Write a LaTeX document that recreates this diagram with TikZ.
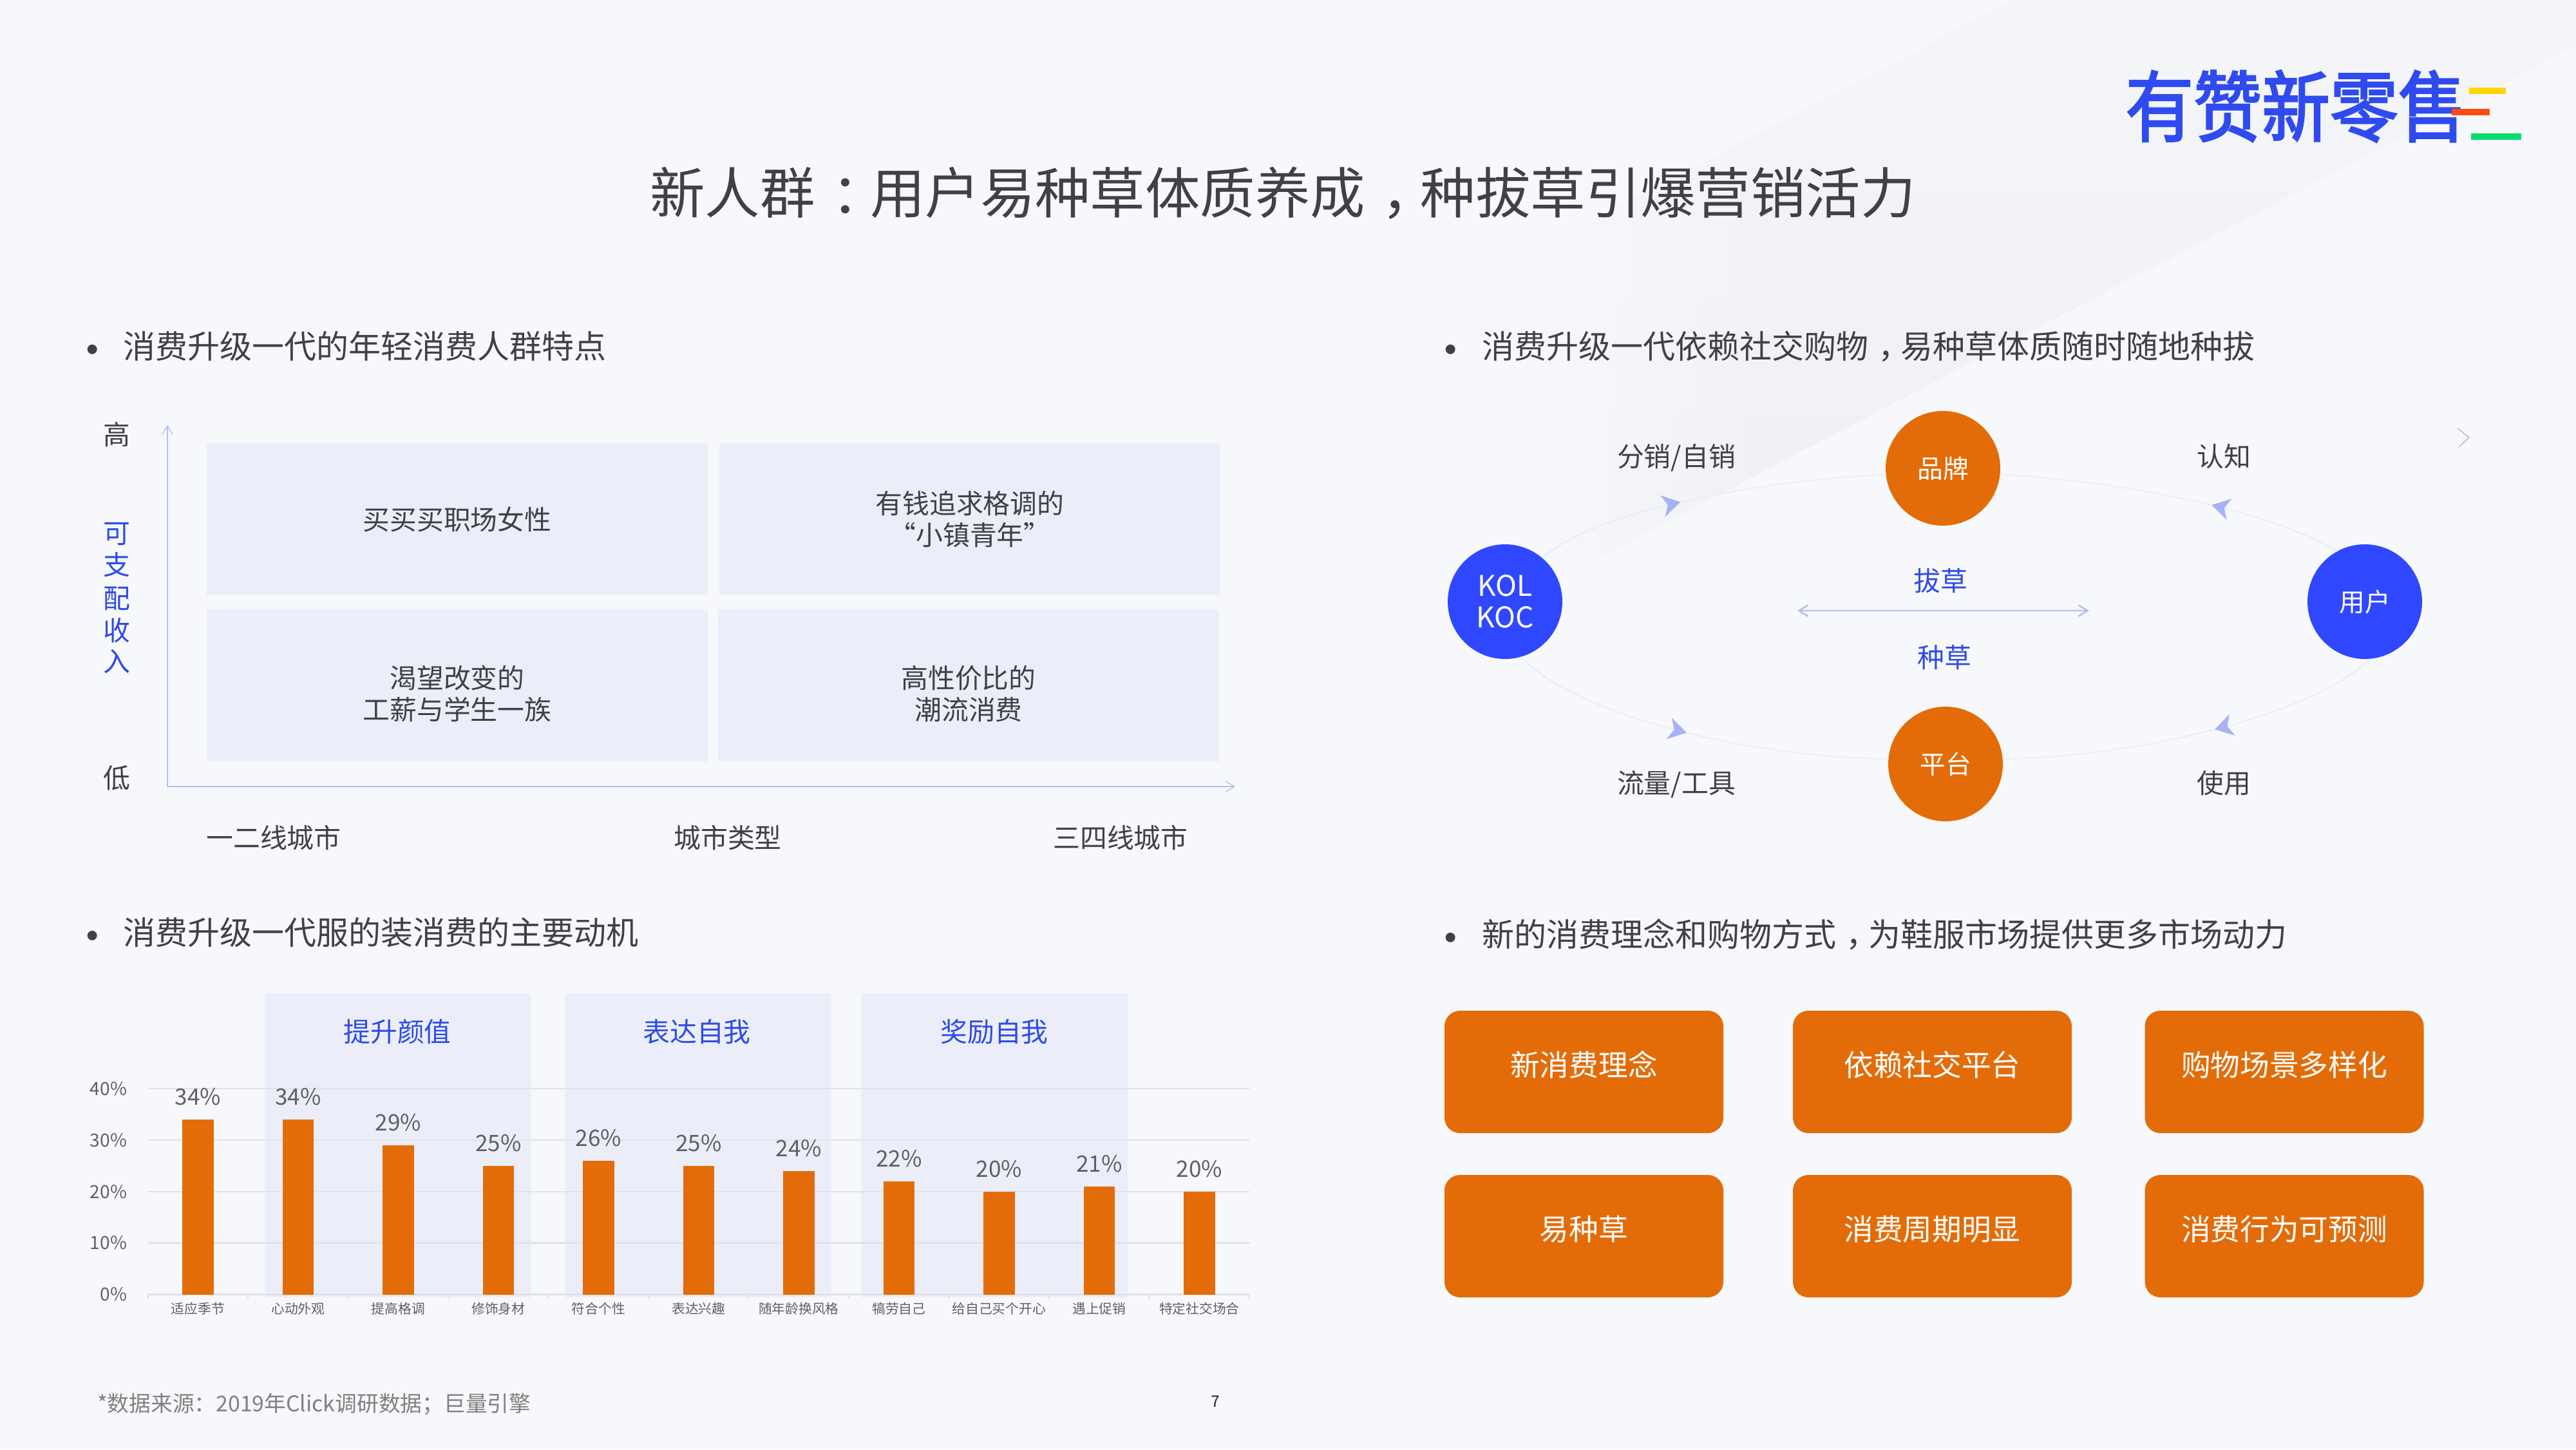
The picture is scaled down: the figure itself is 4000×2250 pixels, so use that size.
\documentclass[tikz,border=0pt]{standalone}
\usepackage{fontspec}
\setmainfont{Noto Sans CJK SC}
\newfontfamily\logofont[FakeBold=2.5]{Noto Sans CJK SC}
\usetikzlibrary{arrows.meta,decorations.markings,fadings}
\definecolor{bgcol}{HTML}{F7F8FB}
\definecolor{bandgrey}{HTML}{EFF0F3}
\definecolor{ink}{HTML}{404046}
\definecolor{softink}{HTML}{5F5F66}
\definecolor{blueink}{HTML}{2F4BE6}
\definecolor{logoblue}{HTML}{2F4BF0}
\definecolor{bluefill}{HTML}{2F48FF}
\definecolor{orangefill}{HTML}{E36C09}
\definecolor{palefill}{HTML}{EBEEF9}
\definecolor{gridcol}{HTML}{E1E2E9}
\definecolor{arccol}{HTML}{E8EBF8}
\definecolor{arrowcol}{HTML}{A6B2F4}
\definecolor{axiscol}{HTML}{B4BFF0}
\definecolor{centercol}{HTML}{B3BCEA}
\definecolor{logoyellow}{HTML}{FFD500}
\definecolor{logored}{HTML}{FF4A10}
\definecolor{logogreen}{HTML}{00DF70}
\newcommand{\fs}[1]{\fontsize{#1}{#1}\selectfont}
\newcommand{\fwcomma}{\kern.3em ^^^^ff0c\kern-.3em }
\newcommand{\fwcolon}{\kern.3em ^^^^ff1a\kern-.3em }
\def\px{0.01cm}
\tikzset{
  x=0.01cm,y=-0.01cm,
  txt/.style={inner sep=0pt,outer sep=0pt,text=ink},
  titletxt/.style={txt,font=\fs{24.3},text=ink,text height=21.3pt,text depth=2.9pt},
  headtxt/.style={txt,anchor=west,font=\fs{14.22},text height=12.5pt,text depth=1.7pt},
  bullettxt/.style={txt,font=\fs{20}},
  chartlbl/.style={txt,font=\fs{11.9},text height=10.5pt,text depth=1.4pt},
  bluelbl/.style={txt,font=\fs{11.9},text=blueink,text height=10.5pt,text depth=1.4pt},
  quad/.style={fill=palefill,inner sep=0pt,outer sep=0pt,minimum width=778*\px,minimum height=236*\px,
     font=\fontsize{11.9}{14}\selectfont,text=ink,align=center},
  quadlbl/.style={txt,font=\fontsize{11.9}{14}\selectfont,align=center},
  band/.style={fill=palefill,inner sep=0pt,minimum width=414*\px,minimum height=472*\px},
  gridline/.style={draw=gridcol,line width=.8pt},
  barbox/.style={fill=orangefill,inner sep=0pt,outer sep=0pt,minimum width=48.5*\px,anchor=south},
  vallbl/.style={txt,font=\fs{10},text=softink},
  ylbl/.style={txt,anchor=east,font=\fs{8},text=softink},
  catlbl/.style={txt,font=\fs{5.9},text=softink},
  disc/.style={circle,inner sep=0pt,outer sep=0pt,minimum size=178*\px,text=white,align=center,
     font=\fontsize{11.3}{14}\selectfont},
  bluedisc/.style={disc,fill=bluefill},
  orangedisc/.style={disc,fill=orangefill},
  arcflow/.style={draw=arccol,line width=.45pt,postaction={decorate,decoration={markings,
     mark=at position #1 with {\arrow{Stealth[length=.28cm,width=.34cm,inset=.08cm,color=arrowcol]}}}}},
  actionbox/.style={fill=orangefill,rounded corners=.24cm,inner sep=0pt,outer sep=0pt,
     minimum width=433*\px,minimum height=190*\px,text=white,font=\fs{13}},
  axisline/.style={draw=axiscol,line width=.35pt,{Straight Barb[length=.14cm,width=.17cm]}-{Straight Barb[length=.14cm,width=.17cm]}},
  centerline/.style={draw=centercol,line width=.7pt,{Straight Barb[length=.14cm,width=.17cm]}-{Straight Barb[length=.14cm,width=.17cm]}},
}
\newcommand{\boxtxt}[1]{\raisebox{-0.65mm}[0pt][0pt]{#1}}
\begin{document}
\begin{tikzpicture}
\useasboundingbox (0,0) rectangle (4000,2250);
\fill[bgcol] (0,0) rectangle (4000,2250);
% diagonal background band
\begin{scope}
  \clip (0,0) rectangle (4000,2250);
  \begin{scope}[shift={(4000,72)},rotate=27.6]
    \shade[top color=bgcol,bottom color=bandgrey] (300,0) -- (-1790,0) -- (-1790,-469) -- (300,-469) -- cycle;
  \end{scope}
  \fill[bgcol] (2000,100) rectangle (2400,1000);
  \fill[bgcol,path fading=east] (2399,100) rectangle (2760,1000);
\end{scope}

% logo
\node[txt,font=\logofont\fontsize{30.1}{30}\selectfont,text=logoblue] (logo) at (3565,165) {\scalebox{1}[1.13]{有赞新零售}};
\fill[logoyellow] (3834,136) rectangle (3891,146);
\fill[logored] (3807,169) rectangle (3866,179);
\fill[logogreen] (3837,207) rectangle (3915,217);

% title
\node[titletxt] (title) at (1992,299) {新人群\fwcolon 用户易种草体质养成\fwcomma 种拔草引爆营销活力};

% section headings
\node[bullettxt] (b1) at (144,552) {•};
\node[headtxt] (h1) at (191,537) {消费升级一代的年轻消费人群特点};
\node[bullettxt] (b2) at (2253,552) {•};
\node[headtxt] (h2) at (2301,537) {消费升级一代依赖社交购物\fwcomma 易种草体质随时随地种拔};
\node[bullettxt] (b3) at (144,1462) {•};
\node[headtxt] (h3) at (191,1447) {消费升级一代服的装消费的主要动机};
\node[bullettxt] (b4) at (2253,1465) {•};
\node[headtxt] (h4) at (2301,1450) {新的消费理念和购物方式\fwcomma 为鞋服市场提供更多市场动力};

% quadrant chart
\node[quad] (q1) at (710,806) {买买买职场女性};
\node[quad] (q2) at (1506,806) {有钱追求格调的\\“小镇青年”};
\node[quad,label={[quadlbl,name=q3t,yshift=-13*\px]center:渴望改变的\\工薪与学生一族}] (q3) at (710,1064) {};
\node[quad,label={[quadlbl,name=q4t,yshift=-13*\px]center:高性价比的\\潮流消费}] (q4) at (1504,1064) {};
\coordinate (origin) at (260,1221);
\coordinate (ytop) at (260,660);
\coordinate (xend) at (1918,1221);
\draw[axisline] (ytop) -- (origin) -- (xend);
\node[chartlbl] (yhigh) at (181,674) {高};
\node[bluelbl] (y1) at (181,827) {可};
\node[bluelbl] (y2) at (181,876) {支};
\node[bluelbl] (y3) at (181,928) {配};
\node[bluelbl] (y4) at (181,978) {收};
\node[bluelbl] (y5) at (181,1026) {入};
\node[chartlbl] (ylow) at (181,1207) {低};
\node[chartlbl] (x1) at (425,1300) {一二线城市};
\node[chartlbl] (x2) at (1130,1300) {城市类型};
\node[chartlbl] (x3) at (1740,1300) {三四线城市};

% bar chart
\node[band] (band1) at (618,1778) {};
\node[band] (band2) at (1084,1778) {};
\node[band] (band3) at (1544,1778) {};
\node[bluelbl] (bl1) at (617,1601) {提升颜值};
\node[bluelbl] (bl2) at (1082,1601) {表达自我};
\node[bluelbl] (bl3) at (1544,1601) {奖励自我};
\foreach \p/\yy in {40/1690,30/1770,20/1850,10/1929.5,0/2009.5}{
  \draw[gridline] (229.5,\yy) -- (1940,\yy);
  \node[ylbl] (yl\p) at (197,\yy) {\p\%};
}
\foreach \k in {0,...,11}{
  \pgfmathsetmacro\tx{229.5+155.5*\k}
  \draw[gridline] (\tx,2009.5) -- (\tx,2016);
}
\foreach \i/\v/\lab in {0/34/适应季节,1/34/心动外观,2/29/提高格调,3/25/修饰身材,4/26/符合个性,5/25/表达兴趣,6/24/随年龄换风格,7/22/犒劳自己,8/20/给自己买个开心,9/21/遇上促销,10/20/特定社交场合}{
  \pgfmathsetmacro\cx{229.5+155.5*(\i+.5)}
  \pgfmathsetmacro\ty{2009.5-8*\v}
  \pgfmathsetmacro\ly{\ty-35}
  \node[barbox,minimum height=\v*8*\px] (bar\i) at (\cx,2009.5) {};
  \node[vallbl] (val\i) at (\cx,\ly) {\v\%};
  \node[catlbl] (cat\i) at (\cx,2032) {\lab};
}

% ecosystem diagram
\node[orangedisc] (brand) at (3017,727) {品牌};
\node[orangedisc] (plat) at (3021,1186) {平台};
\node[bluedisc,font=\fontsize{12.6}{14}\selectfont] (kol) at (2337,934) {KOL\\KOC};
\node[bluedisc] (user) at (3672,934) {用户};
\draw[arcflow=.42] (kol.50) .. controls (2480,795) and (2700,750) .. (brand.186);
\draw[arcflow=.385] (user.119) .. controls (3530,795) and (3320,750) .. (brand.-6);
\draw[arcflow=.475] (kol.-74) .. controls (2440,1105) and (2700,1175) .. (plat.175);
\draw[arcflow=.445] (user.-85) .. controls (3600,1105) and (3330,1175) .. (plat.5);
\coordinate (cl) at (2791,948);
\coordinate (cr) at (3244,948);
\draw[centerline] (cl) -- (cr);
\node[bluelbl] (pull) at (3013,901) {拔草};
\node[bluelbl] (plant) at (3019,1020) {种草};
\node[chartlbl] (l1) at (2603,708) {分销/自销};
\node[chartlbl] (l2) at (3453,708) {认知};
\node[chartlbl] (l3) at (2603,1215) {流量/工具};
\node[chartlbl] (l4) at (3453,1215) {使用};
\draw[draw=black!35,line width=.3pt] (3816,665) -- (3834,679) -- (3818,694);

% action boxes
\node[actionbox] (a1) at (2459.5,1664) {\boxtxt{新消费理念}};
\node[actionbox] (a2) at (3000.5,1664) {\boxtxt{依赖社交平台}};
\node[actionbox] (a3) at (3547,1664) {\boxtxt{购物场景多样化}};
\node[actionbox] (a4) at (2459.5,1919) {\boxtxt{易种草}};
\node[actionbox] (a5) at (3000.5,1919) {\boxtxt{消费周期明显}};
\node[actionbox] (a6) at (3547,1919) {\boxtxt{消费行为可预测}};

% footer
\node[txt,anchor=west,font=\fs{9.6},text=black!50] (src) at (151,2180) {*数据来源^^^^ff1a2019年Click调研数据^^^^ff1b巨量引擎};
\node[txt,font=\fs{7},text=black!85] (page) at (1887,2176) {7};
\end{tikzpicture}
\end{document}
